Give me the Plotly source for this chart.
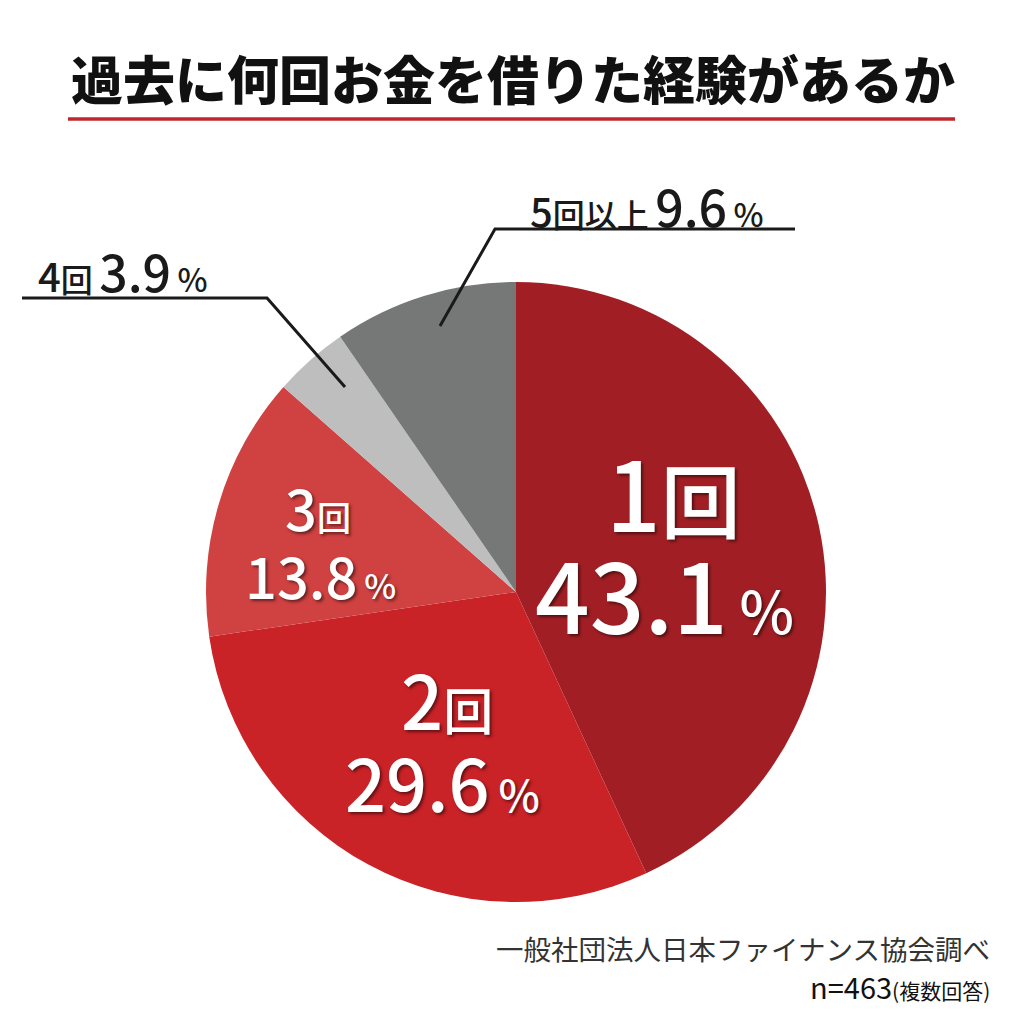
import plotly.graph_objects as go

title = "過去に何回お金を借りた経験があるか"
labels = ["1回", "2回", "3回", "4回", "5回以上"]
values = [43.1, 29.6, 13.8, 3.9, 9.6]
colors = ["#A11F24", "#C92227", "#D04141", "#BEBEBE", "#767777"]
source = "一般社団法人日本ファイナンス協会調べ"
sample = "n=463"
note = "(複数回答)"

FONT = "Noto Sans CJK JP"
W = H = 1024

def px(x):
    return x / W

def py(y):
    return 1 - y / H

cx, cy, r = 516, 592, 310

fig = go.Figure()
fig.add_trace(go.Pie(
    labels=labels, values=values, sort=False, direction="clockwise", rotation=0,
    marker=dict(colors=colors, line=dict(width=0)),
    textinfo="none", hoverinfo="label+percent", showlegend=False,
    domain=dict(x=[px(cx - r), px(cx + r)], y=[py(cy + r), py(cy - r)]),
))

shadow = "2px 2px 3px rgba(0,0,0,0.5)"
ann = []

def lab(x, y, text, size, color="white", sh=shadow):
    ann.append(dict(x=px(x), y=py(y), xref="paper", yref="paper", text=text, showarrow=False,
                    xanchor="center", yanchor="middle",
                    font=dict(family=FONT, size=size, color=color, shadow=sh, weight=500)))

def pct(v, big, small):
    return f"<span style='font-size:{big}px'>{v}</span><span style='font-size:{small}px'>\u2009%</span>"

# inside labels
lab(673, 490, f"<span style='font-size:96px'>{labels[0][:-1]}</span><span style='font-size:80px'>{labels[0][-1]}</span>", 96)
lab(664, 592, pct(values[0], 96, 58), 96)
lab(447, 697, f"<span style='font-size:74px'>{labels[1][:-1]}</span><span style='font-size:50px'>{labels[1][-1]}</span>", 74)
lab(442, 780, pct(values[1], 72, 44), 72)
lab(318, 506, f"<span style='font-size:56px'>{labels[2][:-1]}</span><span style='font-size:34px'>{labels[2][-1]}</span>", 56)
lab(320, 574, pct(values[2], 56, 34), 56)

# outside labels
def olab(x, y, name, v):
    ann.append(dict(x=px(x), y=py(y), xref="paper", yref="paper", showarrow=False,
                    xanchor="left", yanchor="middle",
                    text=f"<span style='font-size:40px'>{name[0]}</span><span style='font-size:32px'>{name[1:]}\u2009</span>"
                         + f"<span style='font-size:50px'>{v}</span><span style='font-size:32px'>\u2009%</span>",
                    font=dict(family=FONT, size=50, color="#1a1a1a", weight=500)))

olab(528, 205, labels[4], values[4])
olab(36, 270, labels[3], values[3])

# title
ann.append(dict(x=px(513), y=py(77), xref="paper", yref="paper", showarrow=False,
                xanchor="center", yanchor="middle", text=title,
                font=dict(family=FONT, size=52, color="#111111", weight=900)))

# source
ann.append(dict(x=px(992), y=py(948), xref="paper", yref="paper", showarrow=False,
                xanchor="right", yanchor="middle", text=source,
                font=dict(family=FONT, size=27.5, color="#333333")))
ann.append(dict(x=px(992), y=py(986), xref="paper", yref="paper", showarrow=False,
                xanchor="right", yanchor="middle",
                text=f"<span style='font-size:29px'>{sample}</span><span style='font-size:21px'>{note}</span>",
                font=dict(family=FONT, size=29, color="#111111")))

shapes = [
    dict(type="line", xref="paper", yref="paper", x0=px(68), x1=px(955), y0=py(119), y1=py(119),
         line=dict(color="#C0272D", width=3.5)),
    dict(type="path", xref="paper", yref="paper",
         path=f"M {px(440)},{py(326)} L {px(495)},{py(229)} L {px(795)},{py(229)}",
         line=dict(color="#1a1a1a", width=3)),
    dict(type="path", xref="paper", yref="paper",
         path=f"M {px(345)},{py(387)} L {px(267)},{py(298)} L {px(22)},{py(298)}",
         line=dict(color="#1a1a1a", width=3)),
]

fig.update_layout(
    width=W, height=H, autosize=False,
    margin=dict(l=0, r=0, t=0, b=0),
    paper_bgcolor="white", plot_bgcolor="white",
    annotations=ann, shapes=shapes,
    font=dict(family=FONT),
)

fig.write_html("out.html")
